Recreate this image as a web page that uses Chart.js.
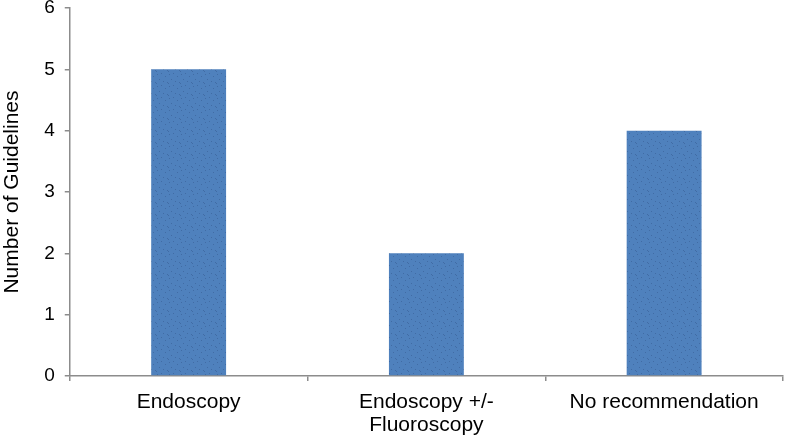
<!DOCTYPE html>
<html>
<head>
<meta charset="utf-8">
<script src="https://cdn.jsdelivr.net/npm/chart.js@4/dist/chart.umd.min.js"></script>
<style>
  html, body { margin: 0; padding: 0; background: #fff; }
  #wrap { width: 785px; height: 438px; }
</style>
</head>
<body>
<div id="wrap"><canvas id="guidelinesChart" width="785" height="438"></canvas></div>
<script>
// Data
const categories = ['Endoscopy', ['Endoscopy +/-', 'Fluoroscopy'], 'No recommendation'];
const guidelineCounts = [5, 2, 4];
const yTicks = [0, 1, 2, 3, 4, 5, 6];

// Bar fill: blue with a faint dotted texture
function makePattern() {
    const c = document.createElement('canvas');
    c.width = 12;
    c.height = 12;
    const p = c.getContext('2d');
    p.fillStyle = '#4f81bd';
    p.fillRect(0, 0, 12, 12);
    p.fillStyle = 'rgba(40, 70, 120, 0.35)';
    [[1, 2], [5, 1], [9, 4], [3, 7], [7, 9], [11, 10], [0, 11]].forEach(d => p.fillRect(d[0], d[1], 1, 1));
    return p.createPattern(c, 'repeat');
}

const font = 'Liberation Sans, Arial, sans-serif';
const ctx = document.getElementById('guidelinesChart').getContext('2d');

new Chart(ctx, {
    type: 'bar',
    data: {
        labels: categories,
        datasets: [{
            label: 'Number of Guidelines',
            data: guidelineCounts,
            backgroundColor: makePattern(),
            borderWidth: 0,
            categoryPercentage: 1,
            barPercentage: 0.315
        }]
    },
    options: {
        responsive: false,
        animation: false,
        layout: {
            padding: { top: 8, right: 2, bottom: 0, left: 0 }
        },
        plugins: {
            legend: { display: false },
            tooltip: { enabled: false }
        },
        scales: {
            y: {
                min: 0,
                max: 6,
                afterBuildTicks: function(axis) {
                    axis.ticks = yTicks.map(v => ({ value: v }));
                },
                // let the top label overhang instead of shrinking the plot
                afterFit: function(axis) {
                    axis.paddingTop = 0;
                    axis.paddingBottom = 0;
                },
                border: { color: '#8c8c8c', width: 1.5 },
                grid: {
                    drawOnChartArea: false,
                    drawTicks: true,
                    tickLength: 5,
                    color: '#8c8c8c',
                    lineWidth: 1.5
                },
                ticks: {
                    color: '#000',
                    padding: 10,
                    font: { family: font, size: 19 }
                },
                title: {
                    display: true,
                    text: 'Number of Guidelines',
                    color: '#000',
                    padding: { top: 0, bottom: 9 },
                    font: { family: font, size: 21 }
                }
            },
            x: {
                afterFit: function(axis) {
                    axis.height = 62;
                },
                border: { color: '#8c8c8c', width: 1.5 },
                grid: {
                    offset: true,
                    drawOnChartArea: false,
                    drawTicks: true,
                    tickLength: 5,
                    color: '#8c8c8c',
                    lineWidth: 1.5
                },
                ticks: {
                    color: '#000',
                    padding: 10,
                    maxRotation: 0,
                    font: { family: font, size: 21, lineHeight: 1.1 }
                }
            }
        }
    }
});
</script>
</body>
</html>
